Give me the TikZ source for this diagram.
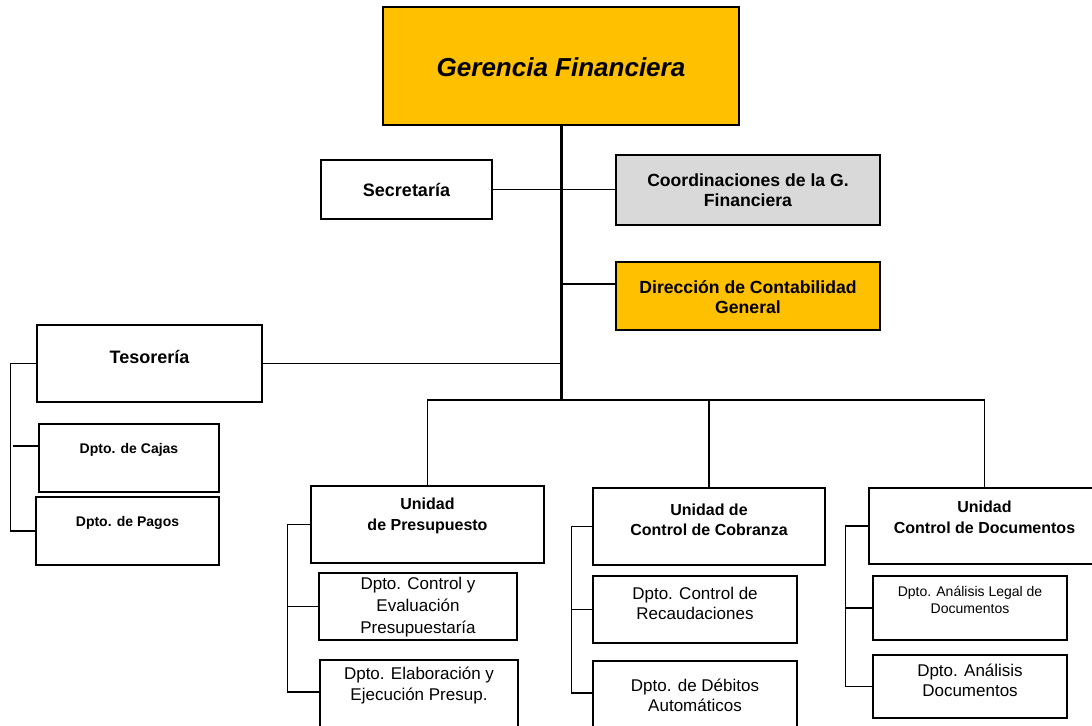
\documentclass[tikz,border=0pt]{standalone}
\usepackage{fontspec}
\setmainfont{Liberation Sans}
\usetikzlibrary{positioning,fit}
\definecolor{gfclr}{RGB}{255,192,0}
\definecolor{coordclr}{RGB}{217,217,217}
\tikzset{
  box/.style={draw, line width=0.7pt, inner sep=0pt, align=center},
  lbl/.style={align=center},
  conn/.style={line width=0.6pt},
  trunk/.style={line width=1.5pt},
}
\newcommand{\fs}[2]{\fontsize{#1}{#2}\selectfont}

\begin{document}
\begin{tikzpicture}[x=0.5pt, y=-0.5pt]
\path[use as bounding box, clip] (0,0) rectangle (1092,726);

% cabeza y staff
\node[box, fill=gfclr, fit={(383,7)(739,125)},
  label={[lbl, font=\fs{13}{16}\bfseries\itshape, yshift=-0.5pt]center:Gerencia Financiera}] (ger) {};
\node[box, fit={(321,160)(492,219)},
  label={[lbl, font=\fs{9}{11}\bfseries]center:Secretaría}] (sec) {};
\node[box, fill=coordclr, fit={(616,155)(880,225)},
  label={[lbl, font=\fs{8.8}{10}\bfseries]center:Coordinaciones de la G.\\Financiera}] (coord) {};
\node[box, fill=gfclr, fit={(616,262)(880,330)},
  label={[lbl, font=\fs{8.8}{10}\bfseries, yshift=-0.5pt]center:Dirección de Contabilidad\\General}] (dir) {};

% tesoreria
\node[box, fit={(37,325)(262,402)},
  label={[lbl, font=\fs{9}{11}\bfseries, yshift=3.5pt]center:Tesorería}] (tes) {};
\node[box, fit={(39,424)(219,492)},
  label={[lbl, font=\fs{7}{9}\bfseries, yshift=4pt]center:Dpto. de Cajas}] (caj) {};
\node[box, fit={(36,497)(219,565)},
  label={[lbl, font=\fs{7}{9}\bfseries, yshift=4pt]center:Dpto. de Pagos}] (pag) {};

% unidades
\node[box, fit={(311,486)(544,563)},
  label={[lbl, font=\fs{8}{10.3}\bfseries, yshift=4.25pt]center:Unidad\\de Presupuesto}] (up) {};
\node[box, fit={(593,488)(825,565)},
  label={[lbl, font=\fs{8}{10}\bfseries, yshift=3.25pt]center:Unidad de\\Control de Cobranza}] (ucc) {};
\node[box, fit={(869,488)(1100,564)},
  label={[lbl, font=\fs{8}{10.3}\bfseries, yshift=4.5pt]center:Unidad\\Control de Documentos}] (ucd) {};

% departamentos
\node[box, fit={(319,573)(517,640)},
  label={[lbl, font=\fs{8.5}{11}, yshift=-0.5pt]center:Dpto. Control y\\Evaluación\\Presupuestaría}] (dcev) {};
\node[box, fit={(320,660)(518,760)},
  label={[lbl, font=\fs{8.5}{10.5}, yshift=12pt]center:Dpto. Elaboración y\\Ejecución Presup.}] (deep) {};
\node[box, fit={(593,576)(797,643)},
  label={[lbl, font=\fs{8.5}{10}, yshift=3.25pt]center:Dpto. Control de\\Recaudaciones}] (dcr) {};
\node[box, fit={(593,661)(797,760)},
  label={[lbl, font=\fs{8.5}{10}, yshift=7.75pt]center:Dpto. de Débitos\\Automáticos}] (ddb) {};
\node[box, fit={(873,576)(1067,640)},
  label={[lbl, font=\fs{7}{8.5}, yshift=4pt]center:Dpto. Análisis Legal de\\Documentos}] (dal) {};
\node[box, fit={(873,655)(1067,718)},
  label={[lbl, font=\fs{8.5}{10}, yshift=3.25pt]center:Dpto. Análisis\\Documentos}] (dad) {};

% lineas
\coordinate (bus) at (ger.south |- 0,400);
\coordinate (jdir) at (ger.south |- 0,284);
\draw[conn] (sec.east) -- (sec.east -| coord.west);
\draw[conn] (jdir) -- (jdir -| dir.west);
\draw[conn] (tes.east) -- (tes.east -| ger.south);
\draw[conn] (up.north) |- (ucd.north |- bus) -- (ucd.north);
\draw[conn] (ucc.north) -- (ucc.north |- bus);
\draw[trunk] (ger.south) -- (bus);

\draw[conn] (tes.west) -- ++(-26,0) |- (pag.west);
\draw[conn] (caj.west |- 0,446) -- ++(-25,0);
\draw[conn] (up.west) -- ++(-23,0) |- (deep.west |- 0,692);
\draw[conn] (dcev.west) -- ++(-31,0);
\draw[conn] (ucc.west) -- ++(-21,0) |- (ddb.west |- 0,693);
\draw[conn] (dcr.west) -- ++(-21,0);
\draw[conn] (ucd.west) -- ++(-23,0) |- (dad.west);
\draw[conn] (dal.west) -- ++(-27,0);
\end{tikzpicture}
\end{document}
